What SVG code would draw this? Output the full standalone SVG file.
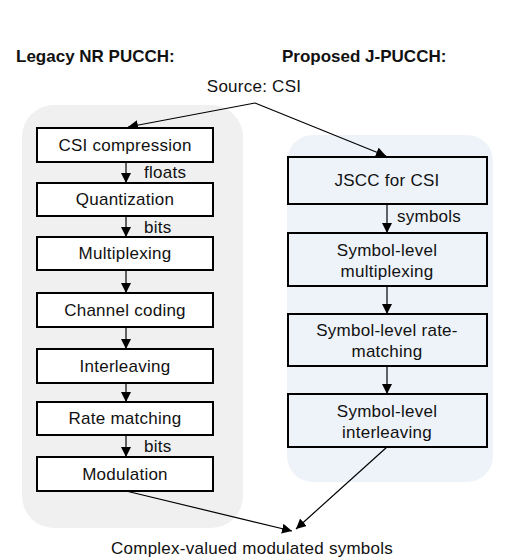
<svg xmlns="http://www.w3.org/2000/svg" width="518" height="560" viewBox="0 0 518 560">
<defs>
<style>
text{font-family:"Liberation Sans",Arial,sans-serif;font-size:17px;letter-spacing:0.25px;fill:#111}
.t{font-weight:bold;font-size:17px;letter-spacing:0}
.m{text-anchor:middle}
.box{fill:#fff;stroke:#000;stroke-width:2}
.bbox{fill:#eef3fa;stroke:#000;stroke-width:2}
.c{fill:none;stroke:#000;stroke-width:1.2}
</style>
<marker id="ah" viewBox="0 0 10 10" refX="10" refY="5" markerWidth="10" markerHeight="10" markerUnits="userSpaceOnUse" orient="auto">
<path d="M0,0 L10,5 L0,10 z" fill="#000"/>
</marker>
</defs>
<rect width="518" height="560" fill="#fff"/>
<rect id="panel-legacy" x="22" y="105" width="221" height="423" rx="32" fill="#f0f0f0"/>
<rect id="panel-proposed" x="287" y="135" width="206" height="347" rx="26" fill="#eef3fa"/>
<text class="t" x="16" y="62">Legacy NR PUCCH:</text>
<text class="t" x="282" y="62">Proposed J-PUCCH:</text>
<text class="m" x="254" y="92">Source: CSI</text>
<g id="connectors">
<path class="c" d="M255,103 L128,127" marker-end="url(#ah)"/>
<path class="c" d="M255,103 L386,156" marker-end="url(#ah)"/>
<path class="c" d="M126,162 V183" marker-end="url(#ah)"/>
<path class="c" d="M126,216 V237" marker-end="url(#ah)"/>
<path class="c" d="M126,270 V293" marker-end="url(#ah)"/>
<path class="c" d="M126,327 V349" marker-end="url(#ah)"/>
<path class="c" d="M126,383 V402" marker-end="url(#ah)"/>
<path class="c" d="M126,435 V457" marker-end="url(#ah)"/>
<path class="c" d="M387,204 V233" marker-end="url(#ah)"/>
<path class="c" d="M387,286 V314" marker-end="url(#ah)"/>
<path class="c" d="M387,366 V394" marker-end="url(#ah)"/>
<path class="c" d="M126,491 L292,531" marker-end="url(#ah)"/>
<path class="c" d="M387,447 L296,529" marker-end="url(#ah)"/>
<text x="144" y="178">floats</text>
<text x="144" y="233">bits</text>
<text x="144" y="452">bits</text>
<text x="397" y="222">symbols</text>
</g>
<g id="n-csi"><rect class="box" x="37" y="128" width="176" height="34"/><text class="m" x="125" y="151">CSI compression</text></g>
<g id="n-quant"><rect class="box" x="37" y="183" width="176" height="33"/><text class="m" x="125" y="205">Quantization</text></g>
<g id="n-mux"><rect class="box" x="37" y="237" width="176" height="33"/><text class="m" x="125" y="259">Multiplexing</text></g>
<g id="n-chcod"><rect class="box" x="37" y="293" width="176" height="34"/><text class="m" x="125" y="316">Channel coding</text></g>
<g id="n-intl"><rect class="box" x="37" y="349" width="176" height="34"/><text class="m" x="125" y="372">Interleaving</text></g>
<g id="n-rm"><rect class="box" x="37" y="402" width="176" height="33"/><text class="m" x="125" y="424">Rate matching</text></g>
<g id="n-mod"><rect class="box" x="37" y="457" width="176" height="34"/><text class="m" x="125" y="480">Modulation</text></g>
<g id="n-jscc"><rect class="bbox" x="288" y="157" width="199" height="47"/><text class="m" x="387" y="186">JSCC for CSI</text></g>
<g id="n-smux"><rect class="bbox" x="288" y="233" width="199" height="53"/><text class="m" x="387" y="256">Symbol-level</text><text class="m" x="387" y="277">multiplexing</text></g>
<g id="n-srm"><rect class="bbox" x="288" y="314" width="199" height="52"/><text class="m" x="387" y="336">Symbol-level rate-</text><text class="m" x="387" y="357">matching</text></g>
<g id="n-sintl"><rect class="bbox" x="288" y="394" width="199" height="53"/><text class="m" x="387" y="417">Symbol-level</text><text class="m" x="387" y="438">interleaving</text></g>
<text class="m" x="252" y="554">Complex-valued modulated symbols</text>
</svg>
